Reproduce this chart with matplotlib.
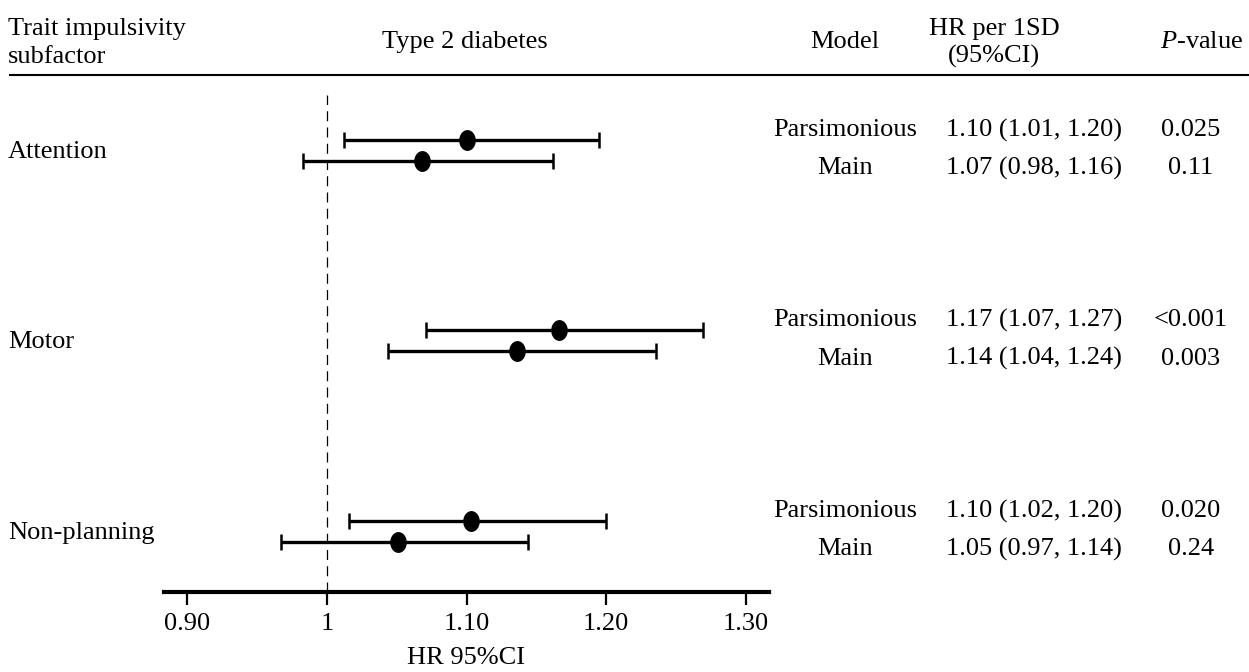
import matplotlib
matplotlib.use("Agg")
import matplotlib.pyplot as plt
import numpy as np
from matplotlib.path import Path
from matplotlib.lines import Line2D

plt.rcParams['font.family'] = ['Liberation Serif', 'DejaVu Serif']
plt.rcParams['mathtext.fontset'] = 'custom'
plt.rcParams['mathtext.rm'] = 'Liberation Serif'
plt.rcParams['mathtext.it'] = 'Liberation Serif:italic'

subfactors = ["Attention", "Motor", "Non-planning"]
models = ["Parsimonious", "Main"]
hr = [[1.100, 1.068], [1.166, 1.136], [1.103, 1.051]]
lo = [[1.012, 0.983], [1.071, 1.044], [1.016, 0.967]]
hi = [[1.195, 1.162], [1.269, 1.236], [1.200, 1.144]]
hr_text = [["1.10 (1.01, 1.20)", "1.07 (0.98, 1.16)"],
           ["1.17 (1.07, 1.27)", "1.14 (1.04, 1.24)"],
           ["1.10 (1.02, 1.20)", "1.05 (0.97, 1.14)"]]
p_text = [["0.025", "0.11"], ["<0.001", "0.003"], ["0.020", "0.24"]]
xticks = [0.90, 1.0, 1.10, 1.20, 1.30]
xticklabels = ["0.90", "1", "1.10", "1.20", "1.30"]

W, H = 1249, 672
fig = plt.figure(figsize=(W / 100, H / 100), dpi=100)

def fx(px):
    return px / W

def fy(py):
    return 1 - py / H

FS = 19

# forest axes
ax_l, ax_r, ax_t, ax_b = 164, 769, 95, 592
ax = fig.add_axes([fx(ax_l), fy(ax_b), fx(ax_r - ax_l), (ax_b - ax_t) / H])
ax.set_xlim(0.8832, 1.3166)
ax.set_ylim(ax_b, ax_t)

# elliptical marker
theta = np.linspace(0, 2 * np.pi, 60)
verts = np.column_stack([np.cos(theta) * 0.78, np.sin(theta)])
ell = Path(verts, closed=True)

centers = [150 + 190.5 * i for i in range(len(subfactors))]
offs = [-10.5, 10.5]
for i, sub in enumerate(subfactors):
    for j in range(len(models)):
        y = centers[i] + offs[j]
        ax.errorbar(hr[i][j], y,
                    xerr=[[hr[i][j] - lo[i][j]], [hi[i][j] - hr[i][j]]],
                    fmt='none', ecolor='black', elinewidth=2.4,
                    capsize=5.5, capthick=1.8)
        ax.plot(hr[i][j], y, marker=ell, ms=14, color='black', zorder=5)

ax.axvline(1.0, color='black', lw=0.9, dashes=(8, 5), zorder=1)

for s in ['top', 'right', 'left']:
    ax.spines[s].set_visible(False)
ax.spines['bottom'].set_linewidth(3)
ax.set_yticks([])
ax.set_xticks(xticks)
ax.set_xticklabels(xticklabels, fontsize=FS)
ax.tick_params(axis='x', direction='out', length=9, width=1.6, pad=6)
ax.set_xlabel("HR 95%CI", fontsize=FS, labelpad=9)

# header
fig.text(fx(8), fy(43), "Trait impulsivity\nsubfactor", fontsize=FS,
         ha='left', va='center', linespacing=1.3)
fig.text(fx(465), fy(42), "Type 2 diabetes", fontsize=FS, ha='center', va='center')
fig.text(fx(845), fy(42), "Model", fontsize=FS, ha='center', va='center')
fig.text(fx(994), fy(43), "HR per 1SD\n(95%CI)", fontsize=FS, ha='center',
         va='center', linespacing=1.3)
fig.text(fx(1202), fy(42), r"$\mathit{P}$-value", fontsize=FS, ha='center', va='center')
fig.add_artist(Line2D([fx(10), fx(1249)], [fy(75), fy(75)], color='black', lw=1.5))

text_offs = [-20, 18]
for i, sub in enumerate(subfactors):
    fig.text(fx(8), fy(centers[i] + 2), sub, fontsize=FS, ha='left', va='center')
    for j, m in enumerate(models):
        yy = centers[i] + text_offs[j]
        fig.text(fx(845), fy(yy), m, fontsize=FS, ha='center', va='center')
        fig.text(fx(946), fy(yy), hr_text[i][j], fontsize=FS, ha='left', va='center')
        fig.text(fx(1191), fy(yy), p_text[i][j], fontsize=FS, ha='center', va='center')

fig.savefig("out.png", dpi=100)
